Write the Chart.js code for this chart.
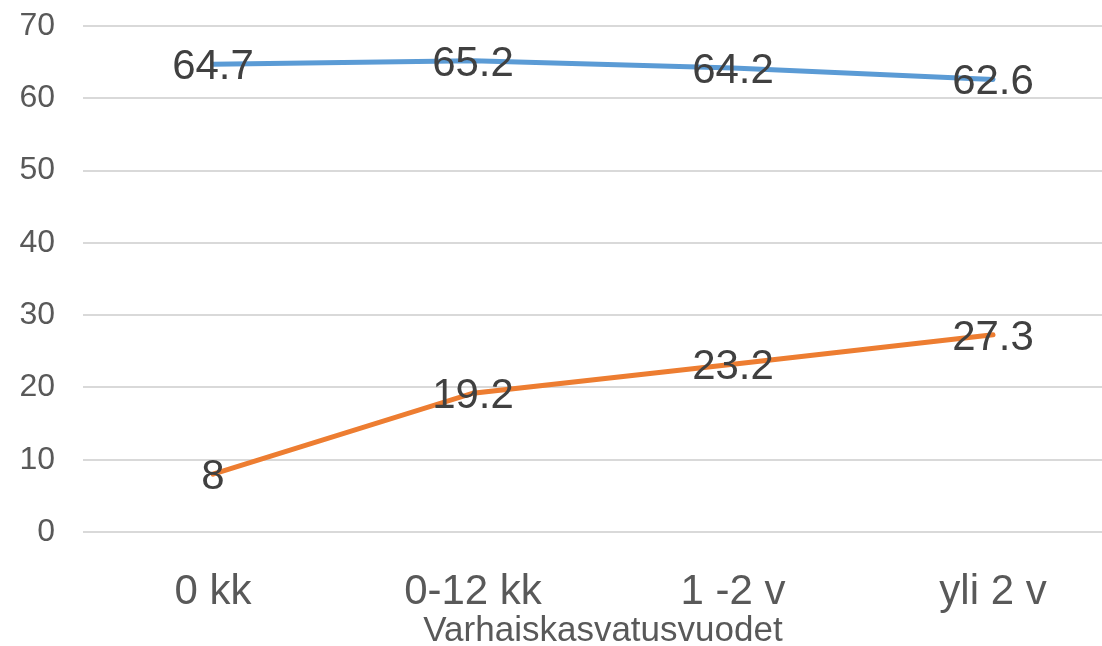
<!DOCTYPE html>
<html lang="fi">
<head>
    <meta charset="UTF-8">
    <title>Varhaiskasvatusvuodet</title>
    <script src="https://cdn.jsdelivr.net/npm/chart.js"></script>
    <style>
        body {
            margin: 0;
            background: white;
            overflow: hidden;
        }
        #wrap {
            width: 1123px;
            height: 646px;
        }
    </style>
</head>
<body>
    <div id="wrap">
        <canvas id="chart" width="1123" height="646"></canvas>
    </div>

    <script>
        const categories = ['0 kk', '0-12 kk', '1 -2 v', 'yli 2 v'];
        const blueValues = [64.7, 65.2, 64.2, 62.6];
        const orangeValues = [8, 19.2, 23.2, 27.3];
        const yTicks = [0, 10, 20, 30, 40, 50, 60, 70];

        // draw the value of each point right on top of it
        // (alphabetic baseline so the digits are centred on the point)
        const valueLabels = {
            id: 'valueLabels',
            afterDatasetsDraw(chart) {
                const ctx = chart.ctx;
                ctx.save();
                ctx.font = '42px "Liberation Sans", Arial, sans-serif';
                ctx.fillStyle = '#404040';
                ctx.textAlign = 'center';
                ctx.textBaseline = 'alphabetic';
                chart.data.datasets.forEach((ds, i) => {
                    chart.getDatasetMeta(i).data.forEach((pt, j) => {
                        ctx.fillText(String(ds.data[j]), pt.x, pt.y + 15);
                    });
                });
                ctx.restore();
            }
        };

        new Chart(document.getElementById('chart'), {
            type: 'line',
            data: {
                labels: categories,
                datasets: [
                    {
                        label: 'blue',
                        data: blueValues,
                        borderColor: '#5b9bd5',
                        borderWidth: 5,
                        pointRadius: 0,
                        tension: 0,
                        borderCapStyle: 'round'
                    },
                    {
                        label: 'orange',
                        data: orangeValues,
                        borderColor: '#ed7d31',
                        borderWidth: 5,
                        pointRadius: 0,
                        tension: 0,
                        borderCapStyle: 'round'
                    }
                ]
            },
            options: {
                responsive: false,
                animation: false,
                layout: { padding: 0 },
                plugins: {
                    legend: { display: false },
                    tooltip: { enabled: false }
                },
                scales: {
                    x: {
                        offset: true,
                        grid: { display: false },
                        border: { display: false },
                        ticks: {
                            color: '#595959',
                            padding: 27,
                            font: { family: '"Liberation Sans", Arial, sans-serif', size: 42 }
                        },
                        title: {
                            display: true,
                            text: 'Varhaiskasvatusvuodet',
                            color: '#595959',
                            padding: 0,
                            font: { family: '"Liberation Sans", Arial, sans-serif', size: 35, lineHeight: 0.85 }
                        },
                        afterFit(scale) { scale.height = 114; }
                    },
                    y: {
                        min: 0,
                        max: 70,
                        afterBuildTicks(scale) {
                            scale.ticks = yTicks.map(v => ({ value: v }));
                        },
                        grid: { color: '#d9d9d9', lineWidth: 2, drawTicks: false },
                        border: { display: false },
                        ticks: {
                            color: '#595959',
                            padding: 28,
                            font: { family: '"Liberation Sans", Arial, sans-serif', size: 32 }
                        },
                        afterFit(scale) {
                            scale.width = 83;
                            scale.paddingTop = 26;
                            scale.paddingBottom = 0;
                        }
                    }
                }
            },
            plugins: [valueLabels]
        });
    </script>
</body>
</html>
